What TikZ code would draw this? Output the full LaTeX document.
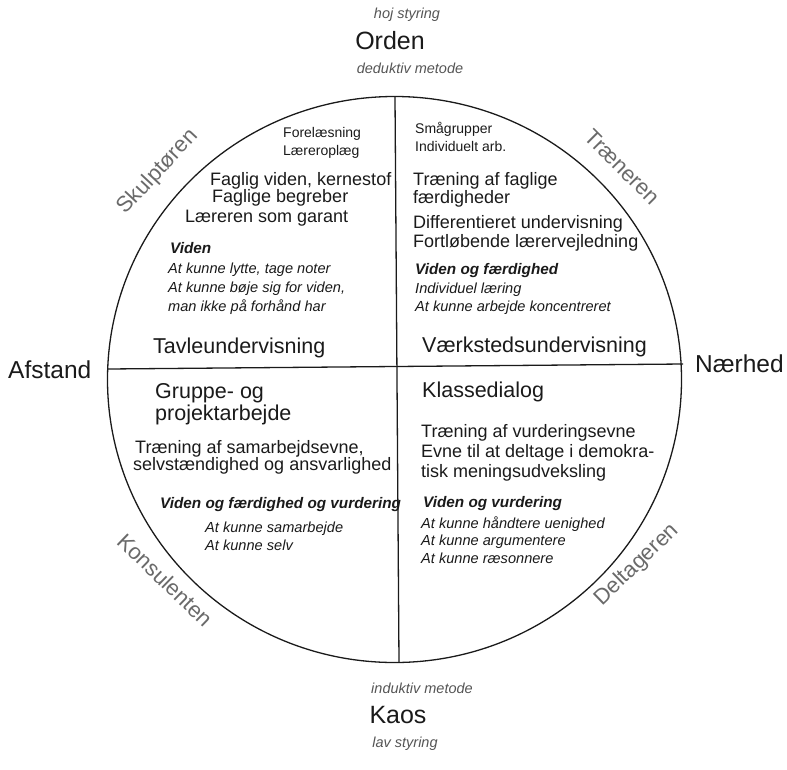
\documentclass[tikz,border=0pt]{standalone}
\usepackage{fontspec}
\setmainfont{Liberation Sans}
\definecolor{lbl}{HTML}{6A6A6A}
\definecolor{sub}{HTML}{555555}
\definecolor{ink}{HTML}{1A1A1A}
\tikzset{
 txt/.style={anchor=base west, inner sep=0pt, text=ink},
 s14/.style={txt, font=\fontsize{14}{14}\selectfont},
 s18/.style={txt, font=\fontsize{18}{18}\selectfont},
 head/.style={txt, font=\fontsize{21.5}{21.5}\selectfont},
 itl/.style={txt, font=\fontsize{14.6}{14.6}\selectfont\itshape},
 bit/.style={txt, font=\fontsize{15.3}{15.3}\selectfont\bfseries\itshape},
 big/.style={anchor=base, inner sep=0pt, text=ink, font=\fontsize{25}{25}\selectfont},
 side/.style={anchor=base west, inner sep=0pt, text=ink, font=\fontsize{24.5}{24.5}\selectfont},
 meta/.style={anchor=base, inner sep=0pt, text=sub, font=\fontsize{14.5}{14.5}\selectfont\itshape},
 role/.style={inner sep=0pt, text=lbl, font=\fontsize{22}{22}\selectfont},
 axis/.style={line width=1.3pt, draw=ink},
}
\begin{document}
\begin{tikzpicture}[x=1pt,y=-1pt]
\useasboundingbox (0,0) rectangle (787,769);
% circle and axes
\coordinate (c) at (394.5,379.5);
\draw[axis] (c) ellipse[x radius=287, y radius=283];
\coordinate (N) at (395,97);
\coordinate (S) at (399,662);
\coordinate (W) at (108,369);
\coordinate (E) at (683,364);
\draw[axis] (N) -- (S);
\draw[axis] (W) -- (E);

% poles
\node[meta] (hoj) at (407,18) {hoj styring};
\node[big] (orden) at (390,49) {Orden};
\node[meta] (ded) at (410,73) {deduktiv metode};
\node[meta] (ind) at (422,693) {induktiv metode};
\node[big] (kaos) at (398,723) {Kaos};
\node[meta] (lav) at (405,747) {lav styring};
\node[side] (afstand) at (8,378) {Afstand};
\node[side] (naerhed) at (695,372) {Nærhed};

% roles
\node[role, rotate=47] (skulp) at (158,172) {Skulptøren};
\node[role, rotate=-45] (traen) at (622,167) {Træneren};
\node[role, rotate=-44] (kons) at (165,580) {Konsulenten};
\node[role, rotate=44] (delt) at (637,565) {Deltageren};

% top-left quadrant
\node[s14] (a1) at (283,137) {Forelæsning};
\node[s14] (a2) at (283,155) {Læreroplæg};
\node[s18] (a3) at (210,185) {Faglig viden, kernestof};
\node[s18] (a4) at (212,202) {Faglige begreber};
\node[s18] (a5) at (185,222) {Læreren som garant};
\node[bit] (a6) at (170,253) {Viden};
\node[itl] (a7) at (168,273) {At kunne lytte, tage noter};
\node[itl] (a8) at (168,292) {At kunne bøje sig for viden,};
\node[itl] (a9) at (168,311) {man ikke på forhånd har};
\node[head] (a10) at (153,353) {Tavleundervisning};

% top-right quadrant
\node[s14] (b1) at (415,133) {Smågrupper};
\node[s14] (b2) at (415,151) {Individuelt arb.};
\node[s18] (b3) at (413,185) {Træning af faglige};
\node[s18] (b4) at (413,203) {færdigheder};
\node[s18] (b5) at (413,228) {Differentieret undervisning};
\node[s18] (b6) at (413,247) {Fortløbende lærervejledning};
\node[bit] (b7) at (415,274) {Viden og færdighed};
\node[itl] (b8) at (415,293) {Individuel læring};
\node[itl] (b9) at (415,311) {At kunne arbejde koncentreret};
\node[head] (b10) at (422,352) {Værkstedsundervisning};

% bottom-left quadrant
\node[head] (c1) at (155,398) {Gruppe- og};
\node[head] (c2) at (155,420) {projektarbejde};
\node[s18] (c3) at (135,453) {Træning af samarbejdsevne,};
\node[s18] (c4) at (133,470) {selvstændighed og ansvarlighed};
\node[bit] (c5) at (160,508) {Viden og færdighed og vurdering};
\node[itl] (c6) at (205,532) {At kunne samarbejde};
\node[itl] (c7) at (205,550) {At kunne selv};

% bottom-right quadrant
\node[head] (d1) at (422,397) {Klassedialog};
\node[s18] (d2) at (421,437) {Træning af vurderingsevne};
\node[s18] (d3) at (421,457) {Evne til at deltage i demokra-};
\node[s18] (d4) at (421,477) {tisk meningsudveksling};
\node[bit] (d5) at (423,507) {Viden og vurdering};
\node[itl] (d6) at (421,528) {At kunne håndtere uenighed};
\node[itl] (d7) at (421,545) {At kunne argumentere};
\node[itl] (d8) at (421,563) {At kunne ræsonnere};
\end{tikzpicture}
\end{document}
